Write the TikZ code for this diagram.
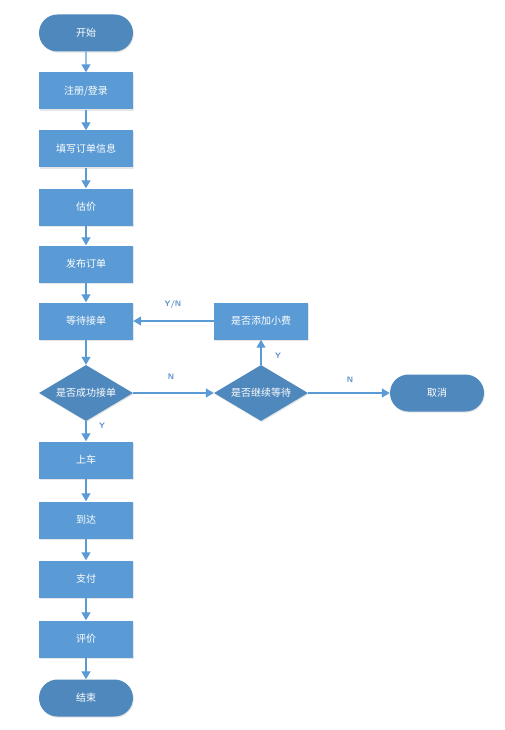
\documentclass[tikz,border=0pt]{standalone}
\usepackage{fontspec}
\newfontfamily\cjk{Noto Sans CJK SC}
\usetikzlibrary{shapes.geometric,shapes.misc,shadows,arrows.meta}
\definecolor{boxblue}{HTML}{5B9BD5}
\definecolor{termblue}{HTML}{4F88BD}
\definecolor{linkblue}{HTML}{5B9BD5}
\definecolor{lblcol}{HTML}{5A8FC8}
\begin{document}
\begin{tikzpicture}[x=1pt,y=-1pt,
  every node/.style={font=\cjk\fontsize{10}{12}\selectfont, text=white},
  base/.style={draw=none, drop shadow={shadow xshift=0.8pt, shadow yshift=-1.2pt, opacity=0.2}},
  procbox/.style={base, rectangle, fill=boxblue, minimum width=94pt, minimum height=37pt, inner sep=0pt},
  termbox/.style={base, rounded rectangle, fill=termblue, minimum width=94pt, minimum height=37pt, inner sep=0pt},
  decbox/.style={base, diamond, fill=termblue, minimum width=94pt, minimum height=56pt, aspect=1.7, inner sep=0pt},
  link/.style={draw=linkblue, line width=1.2pt, -{Triangle[length=8pt,width=9pt]}},
  lbl/.style={font=\sffamily\bfseries\fontsize{8}{9}\selectfont, text=lblcol}
]
\useasboundingbox (0,0) rectangle (505,730);
\node[termbox] (start) at (86,33) {开始};
\node[procbox] (reg) at (86,91) {注册/登录};
\node[procbox] (fill) at (86,149) {填写订单信息};
\node[procbox] (est) at (86,207) {估价};
\node[procbox] (pub) at (86,264) {发布订单};
\node[procbox] (wait) at (86,321) {等待接单};
\node[decbox] (succ) at (86,393) {是否成功接单};
\node[procbox] (board) at (86,460) {上车};
\node[procbox] (arrive) at (86,520) {到达};
\node[procbox] (pay) at (86,579) {支付};
\node[procbox] (rate) at (86,639) {评价};
\node[termbox] (end) at (86,698) {结束};
\node[decbox] (cont) at (261,393) {是否继续等待};
\node[procbox] (tip) at (261,321) {是否添加小费};
\node[termbox] (cancel) at (437,393) {取消};

\draw[link] (start) -- (reg);
\draw[link] (reg) -- (fill);
\draw[link] (fill) -- (est);
\draw[link] (est) -- (pub);
\draw[link] (pub) -- (wait);
\draw[link] (wait) -- (succ);
\draw[link] (succ) -- (board);
\draw[link] (board) -- (arrive);
\draw[link] (arrive) -- (pay);
\draw[link] (pay) -- (rate);
\draw[link] (rate) -- (end);
\draw[link] (succ) -- (cont);
\draw[link] (cont) -- (tip);
\draw[link] (tip) -- (wait);
\draw[link] (cont) -- (cancel);

\node[lbl] (lyn) at (173,304) {Y/N};
\node[lbl] (ln1) at (171,377) {N};
\node[lbl] (ly1) at (278,356) {Y};
\node[lbl] (ln2) at (350,380) {N};
\node[lbl] (ly2) at (102,426) {Y};
\end{tikzpicture}
\end{document}
